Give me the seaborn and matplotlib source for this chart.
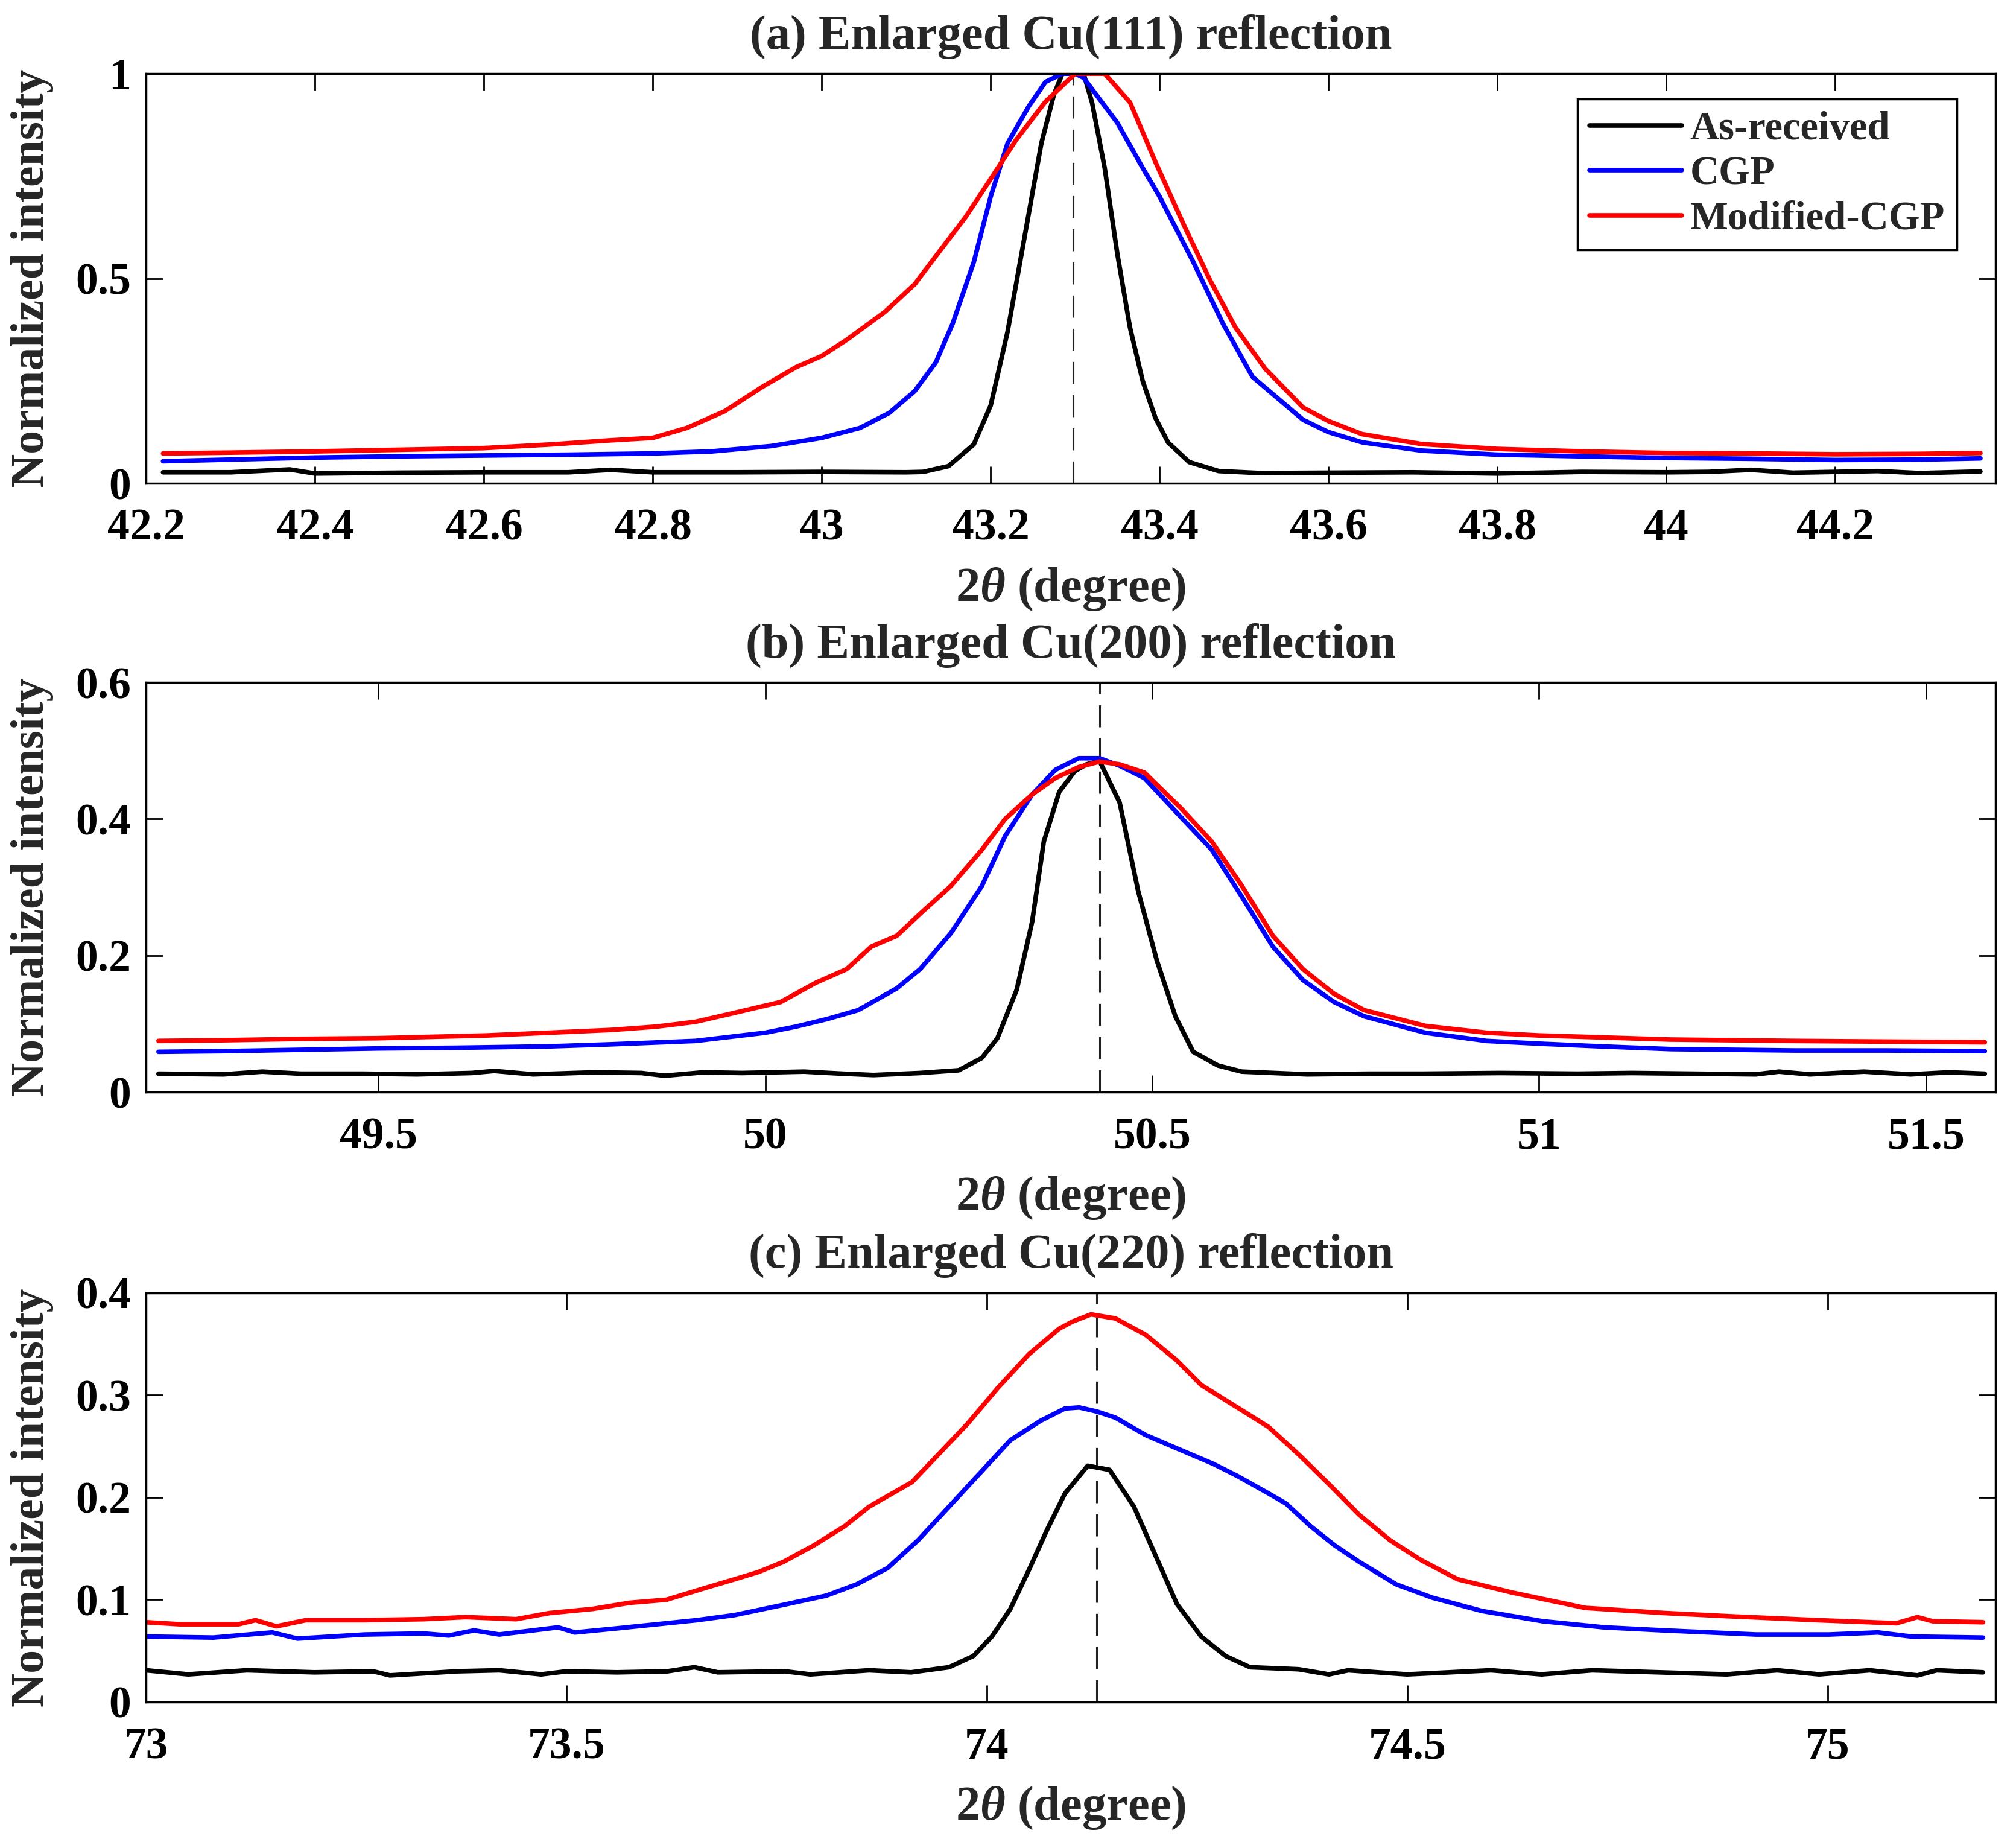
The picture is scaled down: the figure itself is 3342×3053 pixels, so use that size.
import pandas as pd
import numpy as np
import matplotlib
matplotlib.use("Agg")
import matplotlib.pyplot as plt
import seaborn as sns

# ---------------- data ----------------
samples = ["As-received", "CGP", "Modified-CGP"]
colors = {"As-received": "black", "CGP": (0, 0, 1), "Modified-CGP": (1, 0, 0)}

# (a) Cu(111)
a_x_asr = [42.22, 42.30, 42.37, 42.40, 42.50, 42.60, 42.70, 42.75, 42.80, 42.90, 43.00, 43.10, 43.12, 43.15,
           43.18, 43.20, 43.22, 43.24, 43.26, 43.275, 43.285, 43.31, 43.32, 43.335, 43.35, 43.365, 43.38,
           43.395, 43.41, 43.435, 43.47, 43.52, 43.60, 43.70, 43.80, 43.90, 44.00, 44.05, 44.10, 44.15,
           44.25, 44.30, 44.372]
a_y_asr = [0.027, 0.027, 0.034, 0.024, 0.026, 0.027, 0.027, 0.033, 0.027, 0.027, 0.028, 0.027, 0.028, 0.042,
           0.095, 0.19, 0.37, 0.60, 0.83, 0.95, 1.0, 1.0, 0.93, 0.77, 0.56, 0.38, 0.25,
           0.16, 0.10, 0.052, 0.03, 0.025, 0.026, 0.027, 0.024, 0.028, 0.027, 0.028, 0.033, 0.026,
           0.030, 0.025, 0.029]
a_x_cgp = [42.22, 42.30, 42.40, 42.50, 42.60, 42.70, 42.80, 42.87, 42.94, 43.00, 43.045, 43.08, 43.11, 43.135,
           43.155, 43.18, 43.20, 43.22, 43.245, 43.265, 43.285, 43.30, 43.31, 43.35, 43.38, 43.40, 43.44,
           43.475, 43.51, 43.57, 43.60, 43.64, 43.71, 43.80, 43.90, 44.00, 44.10, 44.20, 44.30, 44.372]
a_y_cgp = [0.054, 0.058, 0.063, 0.066, 0.068, 0.070, 0.073, 0.078, 0.091, 0.111, 0.135, 0.172, 0.225, 0.295,
           0.39, 0.54, 0.70, 0.83, 0.92, 0.98, 1.0, 1.0, 0.99, 0.88, 0.77, 0.70, 0.54,
           0.39, 0.26, 0.155, 0.125, 0.100, 0.080, 0.070, 0.066, 0.062, 0.060, 0.057, 0.058, 0.061]
a_x_mod = [42.22, 42.30, 42.40, 42.50, 42.60, 42.68, 42.75, 42.80, 42.84, 42.885, 42.93, 42.97, 43.00, 43.03,
           43.075, 43.11, 43.14, 43.17, 43.20, 43.23, 43.265, 43.30, 43.31, 43.335, 43.365, 43.395, 43.43,
           43.46, 43.49, 43.525, 43.57, 43.60, 43.64, 43.71, 43.80, 43.90, 44.00, 44.10, 44.20, 44.30, 44.372]
a_y_mod = [0.073, 0.075, 0.078, 0.082, 0.086, 0.095, 0.105, 0.111, 0.135, 0.176, 0.236, 0.284, 0.311, 0.351,
           0.419, 0.486, 0.568, 0.649, 0.743, 0.838, 0.932, 1.0, 1.0, 1.0, 0.93, 0.785, 0.625,
           0.495, 0.38, 0.28, 0.185, 0.152, 0.12, 0.096, 0.084, 0.078, 0.074, 0.073, 0.071, 0.072, 0.074]

# (b) Cu(200)
b_x_asr = [49.216, 49.30, 49.35, 49.40, 49.48, 49.55, 49.62, 49.65, 49.70, 49.78, 49.84, 49.87, 49.92, 49.97,
           50.05, 50.10, 50.14, 50.20, 50.25, 50.28, 50.30, 50.325, 50.345, 50.36, 50.38, 50.40, 50.415,
           50.432, 50.458, 50.482, 50.506, 50.53, 50.553, 50.585, 50.616, 50.70, 50.78, 50.85, 50.95, 51.05,
           51.12, 51.20, 51.28, 51.31, 51.35, 51.42, 51.48, 51.53, 51.576]
b_y_asr = [0.027, 0.026, 0.030, 0.027, 0.027, 0.026, 0.028, 0.031, 0.026, 0.029, 0.028, 0.024, 0.029, 0.028,
           0.030, 0.027, 0.025, 0.028, 0.032, 0.050, 0.079, 0.15, 0.25, 0.367, 0.44, 0.47, 0.48,
           0.485, 0.424, 0.294, 0.193, 0.111, 0.059, 0.039, 0.030, 0.026, 0.027, 0.027, 0.028, 0.027,
           0.028, 0.027, 0.026, 0.030, 0.026, 0.030, 0.026, 0.029, 0.027]
b_x_cgp = [49.216, 49.30, 49.40, 49.50, 49.60, 49.72, 49.80, 49.91, 50.00, 50.04, 50.08, 50.12, 50.17, 50.20,
           50.24, 50.28, 50.31, 50.345, 50.375, 50.405, 50.432, 50.458, 50.49, 50.537, 50.577, 50.616,
           50.656, 50.695, 50.735, 50.774, 50.853, 50.932, 51.00, 51.08, 51.17, 51.25, 51.33, 51.45, 51.576]
b_y_cgp = [0.059, 0.060, 0.062, 0.064, 0.065, 0.067, 0.070, 0.075, 0.087, 0.096, 0.107, 0.12, 0.152, 0.18,
           0.233, 0.302, 0.375, 0.436, 0.472, 0.489, 0.489, 0.478, 0.46, 0.403, 0.355, 0.286,
           0.213, 0.164, 0.132, 0.111, 0.087, 0.075, 0.071, 0.067, 0.063, 0.062, 0.061, 0.061, 0.060]
b_x_mod = [49.216, 49.30, 49.40, 49.50, 49.64, 49.72, 49.80, 49.86, 49.91, 49.96, 50.02, 50.065, 50.105,
           50.137, 50.17, 50.20, 50.24, 50.28, 50.31, 50.345, 50.375, 50.405, 50.432, 50.458, 50.49, 50.537,
           50.577, 50.616, 50.656, 50.695, 50.735, 50.774, 50.853, 50.932, 51.00, 51.17, 51.33, 51.45, 51.576]
b_y_mod = [0.075, 0.076, 0.078, 0.079, 0.083, 0.087, 0.091, 0.096, 0.103, 0.116, 0.132, 0.16, 0.18,
           0.213, 0.229, 0.261, 0.302, 0.355, 0.40, 0.436, 0.46, 0.476, 0.484, 0.48, 0.468, 0.416,
           0.367, 0.302, 0.229, 0.18, 0.144, 0.12, 0.097, 0.087, 0.083, 0.077, 0.075, 0.074, 0.073]

# (c) Cu(220)
c_x_asr = [73.0, 73.05, 73.12, 73.20, 73.27, 73.29, 73.37, 73.42, 73.47, 73.50, 73.56, 73.62, 73.652, 73.68,
           73.76, 73.79, 73.86, 73.91, 73.955, 73.984, 74.006, 74.028, 74.05, 74.072, 74.093, 74.12,
           74.146, 74.175, 74.197, 74.226, 74.255, 74.284, 74.313, 74.371, 74.407, 74.43, 74.50, 74.60,
           74.66, 74.72, 74.88, 74.94, 74.99, 75.05, 75.107, 75.13, 75.185]
c_y_asr = [0.031, 0.027, 0.031, 0.029, 0.030, 0.026, 0.030, 0.031, 0.027, 0.030, 0.029, 0.030, 0.034, 0.029,
           0.030, 0.027, 0.031, 0.029, 0.034, 0.045, 0.064, 0.091, 0.129, 0.169, 0.204, 0.231,
           0.227, 0.191, 0.15, 0.096, 0.064, 0.045, 0.034, 0.032, 0.027, 0.031, 0.027, 0.031,
           0.027, 0.031, 0.027, 0.031, 0.027, 0.031, 0.026, 0.031, 0.029]
c_x_cgp = [73.0, 73.08, 73.15, 73.18, 73.26, 73.33, 73.36, 73.39, 73.42, 73.47, 73.49, 73.51, 73.56, 73.655,
           73.70, 73.758, 73.809, 73.845, 73.882, 73.918, 73.955, 73.991, 74.028, 74.064, 74.093, 74.11,
           74.131, 74.153, 74.189, 74.226, 74.269, 74.298, 74.335, 74.356, 74.385, 74.414, 74.443, 74.487,
           74.53, 74.589, 74.661, 74.734, 74.806, 74.915, 75.002, 75.06, 75.10, 75.185]
c_y_cgp = [0.064, 0.063, 0.068, 0.062, 0.066, 0.067, 0.065, 0.070, 0.066, 0.071, 0.073, 0.068, 0.072, 0.080,
           0.085, 0.095, 0.104, 0.115, 0.131, 0.158, 0.191, 0.223, 0.256, 0.275, 0.287, 0.288,
           0.284, 0.278, 0.261, 0.248, 0.233, 0.221, 0.204, 0.194, 0.172, 0.153, 0.137, 0.115,
           0.102, 0.089, 0.079, 0.073, 0.070, 0.066, 0.066, 0.068, 0.064, 0.063]
c_x_mod = [73.0, 73.04, 73.11, 73.13, 73.155, 73.19, 73.26, 73.33, 73.38, 73.44, 73.48, 73.531, 73.575,
           73.619, 73.663, 73.70, 73.728, 73.758, 73.794, 73.831, 73.86, 73.911, 73.94, 73.977, 74.013,
           74.05, 74.086, 74.102, 74.124, 74.153, 74.189, 74.226, 74.255, 74.298, 74.335, 74.371, 74.407,
           74.443, 74.48, 74.516, 74.56, 74.625, 74.712, 74.806, 74.879, 74.988, 75.082, 75.107, 75.125,
           75.185]
c_y_mod = [0.078, 0.076, 0.076, 0.080, 0.074, 0.080, 0.080, 0.081, 0.083, 0.081, 0.087, 0.091, 0.097,
           0.100, 0.111, 0.120, 0.127, 0.137, 0.153, 0.172, 0.191, 0.215, 0.240, 0.272, 0.307,
           0.340, 0.365, 0.372, 0.379, 0.375, 0.359, 0.334, 0.310, 0.288, 0.269, 0.242, 0.213,
           0.183, 0.158, 0.139, 0.120, 0.107, 0.092, 0.087, 0.084, 0.080, 0.077, 0.083, 0.079,
           0.078]

titles = ["(a) Enlarged Cu(111) reflection", "(b) Enlarged Cu(200) reflection", "(c) Enlarged Cu(220) reflection"]
xlims = [(42.2, 44.39), (49.2, 51.59), (73.0, 75.2)]
ylims = [(0, 1), (0, 0.6), (0, 0.4)]
xticks = [[42.2, 42.4, 42.6, 42.8, 43.0, 43.2, 43.4, 43.6, 43.8, 44.0, 44.2],
          [49.5, 50.0, 50.5, 51.0, 51.5],
          [73.0, 73.5, 74.0, 74.5, 75.0]]
yticks = [[0, 0.5, 1], [0, 0.2, 0.4, 0.6], [0, 0.1, 0.2, 0.3, 0.4]]
peak_pos = [43.298, 50.432, 74.131]

panels = [
    [(a_x_asr, a_y_asr), (a_x_cgp, a_y_cgp), (a_x_mod, a_y_mod)],
    [(b_x_asr, b_y_asr), (b_x_cgp, b_y_cgp), (b_x_mod, b_y_mod)],
    [(c_x_asr, c_y_asr), (c_x_cgp, c_y_cgp), (c_x_mod, c_y_mod)],
]

# ---------------- style ----------------
sns.set_style("ticks")
plt.rcParams["font.family"] = ["Liberation Serif", "DejaVu Serif"]
plt.rcParams["font.weight"] = "bold"
plt.rcParams["mathtext.fontset"] = "custom"
plt.rcParams["mathtext.rm"] = "Liberation Serif:bold"
plt.rcParams["mathtext.it"] = "Liberation Serif:italic:bold"
plt.rcParams["axes.linewidth"] = 2.5
plt.rcParams["axes.edgecolor"] = "black"

fig = plt.figure(figsize=(33.42, 30.53), dpi=100)
positions = [[0.0725, 0.7376, 0.9174, 0.2224],
             [0.0725, 0.4071, 0.9174, 0.2224],
             [0.0725, 0.0760, 0.9174, 0.2221]]

for i in range(3):
    ax = fig.add_axes(positions[i])
    frames = []
    for name, (xs, ys) in zip(samples, panels[i]):
        frames.append(pd.DataFrame({"two_theta": xs, "intensity": ys, "sample": name}))
    df = pd.concat(frames, ignore_index=True)
    sns.lineplot(data=df, x="two_theta", y="intensity", hue="sample", palette=colors,
                 hue_order=samples, estimator=None, sort=False, lw=5.5, legend=False, ax=ax)
    curve_lines = list(ax.lines[:3])
    ax.axvline(peak_pos[i], color="#222222", lw=2.2, ls=(0, (12, 6)), zorder=1)

    ax.set_xlim(*xlims[i])
    ax.set_ylim(*ylims[i])
    ax.set_xticks(xticks[i])
    ax.set_xticklabels(["%g" % t for t in xticks[i]])
    ax.set_yticks(yticks[i])
    ax.set_yticklabels(["%g" % t for t in yticks[i]])
    ax.tick_params(axis="both", direction="in", length=20, width=2, top=True, right=True,
                   labelsize=53, colors="black")
    ax.tick_params(axis="x", pad=30)
    ax.tick_params(axis="y", pad=18)
    for s in ax.spines.values():
        s.set_visible(True)
        s.set_linewidth(2.5)

    ax.set_title(titles[i], fontsize=58, fontweight="bold", pad=30)
    ax.set_xlabel(r"2$\mathit{\theta}$ (degree)", fontsize=58, fontweight="bold", labelpad=20)
    ax.set_ylabel("Normalized intensity", fontsize=56, fontweight="bold")
    ax.yaxis.set_label_coords(-0.05, 0.5)

    if i == 0:
        leg = ax.legend(curve_lines, samples, loc="upper right", bbox_to_anchor=(0.979, 0.938),
                        borderaxespad=0, fontsize=48, frameon=True, fancybox=False,
                        edgecolor="black", framealpha=1, handlelength=2.3, handletextpad=0.2,
                        borderpad=0.3, labelspacing=0.2)
        leg.get_frame().set_linewidth(2.5)

fig.savefig("out.png", dpi=100, facecolor="white")
